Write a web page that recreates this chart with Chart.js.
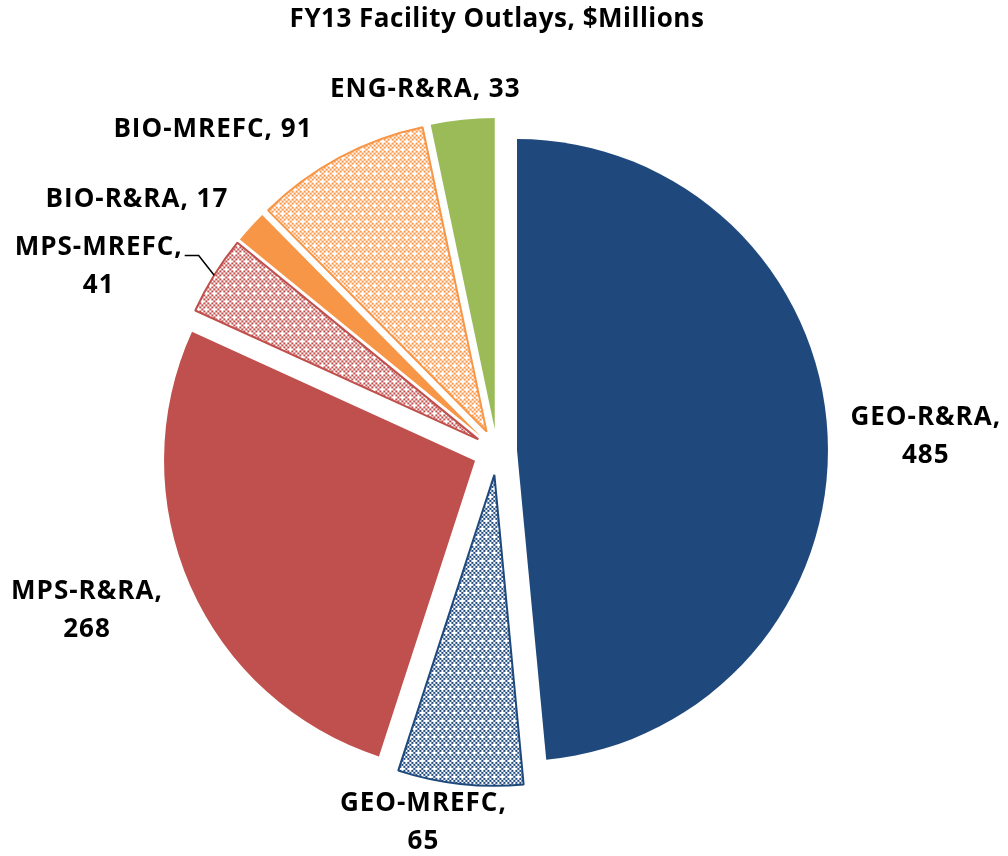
<!DOCTYPE html>
<html>
<head>
<meta charset="utf-8">
<script src="https://cdn.jsdelivr.net/npm/chart.js@4"></script>
<style>
  html, body { margin: 0; padding: 0; background: #ffffff; }
  #wrap { width: 1008px; height: 856px; }
</style>
</head>
<body>
<div id="wrap"><canvas id="pieChart" width="1008" height="856"></canvas></div>
<script>
// FY13 facility outlays, clockwise from 12 o'clock
const title = 'FY13 Facility Outlays, $Millions';
const labels = ['GEO-R&RA', 'GEO-MREFC', 'MPS-R&RA', 'MPS-MREFC', 'BIO-R&RA', 'BIO-MREFC', 'ENG-R&RA'];
const values = [485, 65, 268, 41, 17, 91, 33];
const colors = ['#1F497D', '#1F497D', '#C0504D', '#C0504D', '#F79646', '#F79646', '#9BBB59'];
const patterned = [false, true, false, true, false, true, false];
const explode = [20, 24, 24, 22, 22, 22, 22]; // px, slice pushed out along its bisector

// label placement: polar around the pie centre (angle shift in degrees, distance in px)
const labelLines = [['GEO-R&RA,', '485'], ['GEO-MREFC,', '65'], ['MPS-R&RA,', '268'],
  ['MPS-MREFC,', '41'], ['BIO-R&RA, 17'], ['BIO-MREFC, 91'], ['ENG-R&RA, 33']];
const labelShift = [0.8, 4.9, 2.5, -7, -7.4, -13.2, -5.3];
const labelDist = [429, 379, 440, 439, 439, 429, 368];

// Excel-like "dotted grid" fill: small checker with white crosses
function makePattern(color) {
  const c = document.createElement('canvas');
  c.width = 16; c.height = 16;
  const g = c.getContext('2d');
  g.fillStyle = '#ffffff';
  g.fillRect(0, 0, 16, 16);
  g.fillStyle = color;
  const holes = ['0,0', '4,0', '2,4', '6,4'];
  for (let i = 0; i < 8; i++) {
    for (let j = 0; j < 8; j++) {
      if ((i + j) % 2 === 0 && !holes.includes(i + ',' + j)) g.fillRect(i * 2, j * 2, 2, 2);
    }
  }
  return g.createPattern(c, 'repeat');
}

const fills = colors.map((c, i) => patterned[i] ? makePattern(c) : c);

// draw the arcs ourselves so each one is only translated (Chart.js offset also grows the radius)
const explodePlugin = {
  id: 'explodeSlices',
  beforeDatasetDraw(chart, args) {
    const ctx = chart.ctx;
    args.meta.data.forEach((arc, i) => {
      const m = (arc.startAngle + arc.endAngle) / 2;
      ctx.save();
      ctx.translate(Math.cos(m) * explode[i], Math.sin(m) * explode[i]);
      arc.draw(ctx, chart.chartArea);
      ctx.restore();
    });
    return false;
  }
};

const labelPlugin = {
  id: 'sliceLabels',
  afterDatasetsDraw(chart) {
    const ctx = chart.ctx;
    const arcs = chart.getDatasetMeta(0).data;
    ctx.save();
    ctx.fillStyle = '#000000';
    ctx.font = 'bold 26px "Open Sans"';
    ctx.textAlign = 'center';
    ctx.textBaseline = 'middle';

    // title
    ctx.letterSpacing = '0.5px';
    ctx.fillText(title, (chart.chartArea.left + chart.chartArea.right) / 2, 20);
    ctx.letterSpacing = '1px';

    arcs.forEach((arc, i) => {
      const mid = (arc.startAngle + arc.endAngle) / 2 + labelShift[i] * Math.PI / 180;
      const lx = arc.x + Math.cos(mid) * labelDist[i];
      const ly = arc.y + Math.sin(mid) * labelDist[i];
      const lines = labelLines[i];
      const lh = 38;
      lines.forEach((t, k) => {
        ctx.fillText(t, lx, ly + (k - (lines.length - 1) / 2) * lh);
      });
      if (i === 3) {
        // leader line from label to slice edge
        const m = (arc.startAngle + arc.endAngle) / 2;
        const r = arc.outerRadius + explode[i];
        const ex = arc.x + Math.cos(m) * r;
        const ey = arc.y + Math.sin(m) * r;
        const w = ctx.measureText(lines[0]).width;
        const sx = lx + w / 2 + 2;
        const sy = ly - lh / 2 + 8;
        ctx.beginPath();
        ctx.strokeStyle = '#000000';
        ctx.lineWidth = 1.5;
        ctx.moveTo(sx, sy);
        ctx.lineTo(sx + 14, sy);
        ctx.lineTo(ex, ey);
        ctx.stroke();
      }
    });
    ctx.restore();
  }
};

new Chart(document.getElementById('pieChart'), {
  type: 'pie',
  data: {
    labels: labels,
    datasets: [{
      data: values,
      backgroundColor: fills,
      borderColor: colors,
      borderWidth: patterned.map(p => p ? 2 : 0)
    }]
  },
  options: {
    responsive: false,
    animation: false,
    radius: 311,
    layout: { padding: { left: 0, right: 14, top: 46, bottom: 0 } },
    plugins: {
      legend: { display: false },
      tooltip: { enabled: false },
      title: { display: false }
    }
  },
  plugins: [explodePlugin, labelPlugin]
});
</script>
</body>
</html>
